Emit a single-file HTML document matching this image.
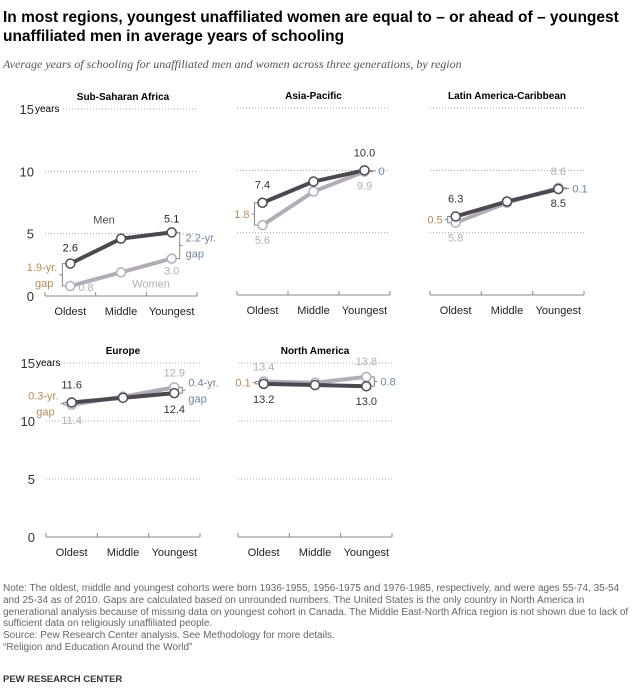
<!DOCTYPE html>
<html><head><meta charset="utf-8"><style>
body{margin:0;background:#fff;font-family:"Liberation Sans",sans-serif;}
#wrap{position:relative;width:641px;height:691px;overflow:hidden;}
.t{position:absolute;left:3px;top:8px;font-size:15.5px;font-weight:bold;color:#000;line-height:19px;width:636px;}
.st{position:absolute;left:3px;top:57px;font-size:12px;font-style:italic;font-family:"Liberation Serif",serif;color:#555;}
.note{position:absolute;left:3px;top:583px;font-size:10px;color:#666;line-height:11.8px;width:632px;}
.src{position:absolute;left:3px;top:674px;font-size:9.5px;font-weight:bold;color:#333;}
</style></head><body>
<div id="wrap">
<div class="t">In most regions, youngest unaffiliated women are equal to – or ahead of – youngest unaffiliated men in average years of schooling</div>
<div class="st">Average years of schooling for unaffiliated men and women across three generations, by region</div>
<svg id="svg" width="641" height="691" style="position:absolute;left:0;top:0"></svg>
<div class="note">Note: The oldest, middle and youngest cohorts were born 1936-1955, 1956-1975 and 1976-1985, respectively, and were ages 55-74, 35-54 and 25-34 as of 2010. Gaps are calculated based on unrounded numbers. The United States is the only country in North America in generational analysis because of missing data on youngest cohort in Canada. The Middle East-North Africa region is not shown due to lack of sufficient data on religiously unaffiliated people.<br>Source: Pew Research Center analysis. See Methodology for more details.<br>“Religion and Education Around the World”</div>
<div class="src">PEW RESEARCH CENTER</div>
</div>
<script>
const categories=["Oldest","Middle","Youngest"];
const regions=["Sub-Saharan Africa","Asia-Pacific","Latin America-Caribbean","Europe","North America"];
const menValues=[[2.6,4.6,5.1],[7.4,9.1,10.0],[6.3,7.5,8.5],[11.6,12.0,12.4],[13.2,13.1,13.0]];
const womenValues=[[0.8,1.9,3.0],[5.6,8.3,9.9],[5.8,7.4,8.6],[11.4,12.1,12.9],[13.4,13.3,13.8]];
const oldGap=["1.9-yr.|gap","1.8","0.5","0.3-yr.|gap","0.1"];
const youngGap=["2.2-yr.|gap","0","0.1","0.4-yr.|gap","0.8"];
const yTicks=[0,5,10,15];

const svg=document.getElementById('svg');
const NS='http://www.w3.org/2000/svg';
function mk(tag,attrs,txt){const e=document.createElementNS(NS,tag);for(const k in attrs)e.setAttribute(k,attrs[k]);if(txt!=null)e.textContent=txt;svg.appendChild(e);return e;}
const MEN='#4e4852',WOM='#b3abb8',ORG='#b98a5a',BLU='#6d87a3';
const panels=[{x0:45,x1:197,y0:296,y15:109,ax:true},{x0:237,x1:390,y0:295,y15:108},{x0:430,x1:584,y0:295,y15:108},{x0:46,x1:200,y0:537,y15:363,ax:true},{x0:238,x1:392,y0:537,y15:363}];
panels.forEach((p,i)=>{
 const xs=c=>p.x0+(p.x1-p.x0)*(c+0.5)/3;
 const ys=v=>p.y0-(p.y0-p.y15)*v/15;
 let t=mk('text',{x:(p.x0+p.x1)/2+(i==0?2:0),y:p.y15-9,'text-anchor':'middle','font-size':10,'font-weight':'bold',fill:'#000'},regions[i]);
 
 yTicks.forEach(v=>{
  if(v>0){const g=mk('line',{x1:p.x0+(v==15&&p.ax?18:0),x2:p.x1,y1:ys(v),y2:ys(v),stroke:'#aaa','stroke-dasharray':'1,2','stroke-width':1});}
  if(p.ax){const l=mk('text',{x:p.x0-11,y:ys(v)+5,'text-anchor':'end','font-size':13,fill:'#333'},v);}
 });
 if(p.ax){const yl=mk('text',{x:p.x0-10,y:p.y15+3,'font-size':10,fill:'#000'},'years');}
 const a=mk('line',{x1:p.x0,x2:p.x1,y1:p.y0,y2:p.y0,stroke:'#888'});
 for(let k=0;k<=3;k++){const x=p.x0+(p.x1-p.x0)*k/3;mk('line',{x1:x,x2:x,y1:p.y0,y2:p.y0-4,stroke:'#888'});}
 categories.forEach((c,k)=>{const l=mk('text',{x:xs(k),y:p.y0+19,'text-anchor':'middle','font-size':11,fill:'#222'},c);});
 [[womenValues[i],WOM,'women'],[menValues[i],MEN,'men']].forEach(([vals,col,nm],si)=>{
  const pl=mk('polyline',{points:vals.map((v,k)=>xs(k)+','+ys(v)).join(' '),fill:'none',stroke:col,'stroke-width':4});
  
 });
 [[womenValues[i],WOM,'women'],[menValues[i],MEN,'men']].forEach(([vals,col,nm])=>{
  vals.forEach((v,k)=>{const c=mk('circle',{cx:xs(k),cy:ys(v),r:4.5,fill:'#fff',stroke:col,'stroke-width':1.5});});
 });
 const m=menValues[i],w=womenValues[i];
 const lbl=(x,y,s,col,anc)=>{const e=mk('text',{x:x,y:y,'text-anchor':anc||'middle','font-size':11,fill:col},s.toFixed(1));};
 if(i==0){lbl(xs(0),ys(m[0])-12,m[0],'#222');lbl(xs(2),ys(m[2])-10,m[2],'#222');lbl(xs(0)+8,ys(w[0])+5,w[0],WOM,'start');lbl(xs(2),ys(w[2])+16,w[2],WOM);
  mk('text',{x:xs(1)-17,y:ys(5.8),'text-anchor':'middle','font-size':11,fill:MEN},'Men');mk('text',{x:xs(1)+30,y:ys(0.7),'text-anchor':'middle','font-size':11,fill:WOM},'Women');}
 else if(i==4){lbl(xs(0),ys(w[0])-11,w[0],WOM);lbl(xs(2),ys(w[2])-12,w[2],WOM);lbl(xs(0),ys(m[0])+19,m[0],'#333');lbl(xs(2),ys(m[2])+19,m[2],'#333');}
 else{lbl(xs(0),ys(m[0])-14,m[0],'#333');lbl(xs(2),ys(m[2])-(i==3?0:14)+(i==3?20:0),i==3?m[2]:(i==2?w[2]:m[2]),i==2?WOM:'#333');
  lbl(xs(0),ys(w[0])+19,w[0],WOM);lbl(xs(2),i==3?ys(w[2])-11:ys(i==2?m[2]:w[2])+18,i==3?w[2]:(i==2?m[2]:w[2]),i==2?'#333':WOM);}
 const br=(x,v1,v2,dir)=>{const y1=ys(v1),y2=ys(v2);mk('path',{d:`M${x+(dir<0?3:-3)},${y1}H${x}V${y2}H${x+(dir<0?3:-3)}M${x},${(y1+y2)/2}H${x+dir*3}`,fill:'none',stroke:'#888'});};
 const gx0=xs(0)-8,gx2=xs(2)+8;
 br(gx0,m[0],w[0],-1);br(gx2,m[2],w[2],1);
 const gl=(x,ymid,s,col,anc)=>{const parts=s.split('|');parts.forEach((ps,j)=>{const e=mk('text',{x:anc=='end'&&j==1?x-4:x,y:ymid+4+(j-(parts.length-1)/2)*16,'text-anchor':anc,'font-size':11,fill:col},ps);});};
 gl(gx0-5,(ys(m[0])+ys(w[0]))/2,oldGap[i],ORG,'end');
 gl(gx2+6,(ys(m[2])+ys(w[2]))/2,youngGap[i],BLU,'start');
});
</script>
</body></html>
